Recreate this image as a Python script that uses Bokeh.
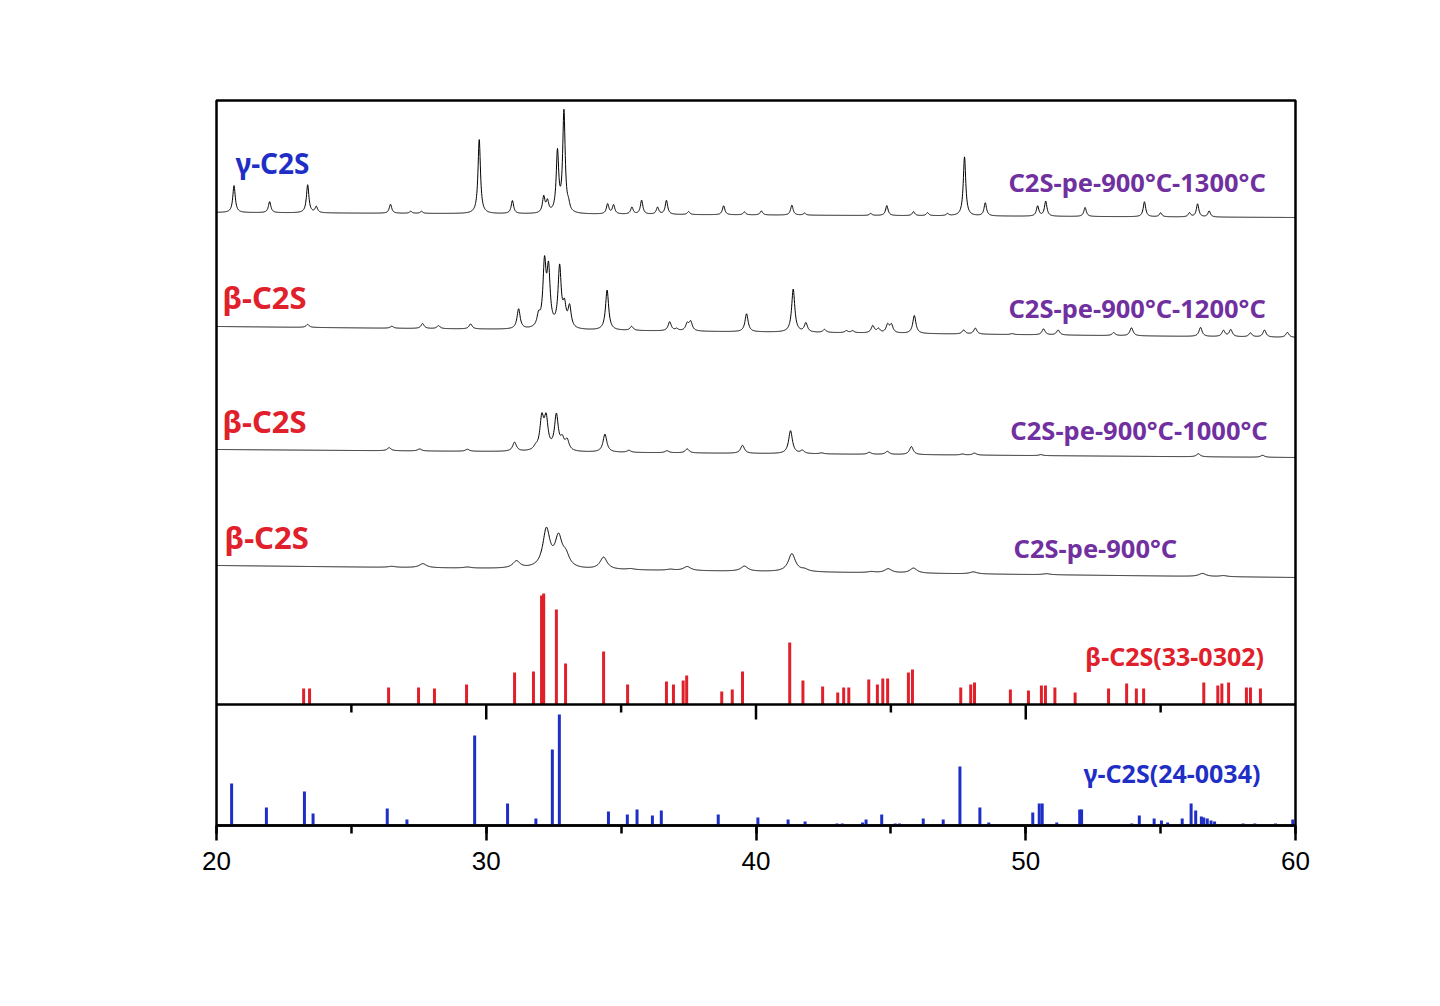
import numpy as np
from bokeh.plotting import figure
from bokeh.models import Range1d, Span, Label, SingleIntervalTicker
from bokeh.embed import file_html
from bokeh.resources import INLINE

# ---------------- data ----------------
# 2-theta peak positions (deg) and heights (arbitrary units) of the measured patterns
s1300_pos = [20.65, 21.97, 23.38, 23.70, 26.45, 27.20, 27.60, 29.74, 30.97, 32.13, 32.27, 32.64,
             32.88, 33.05, 34.50, 34.72, 35.40, 35.76, 36.35, 36.68, 37.50, 38.80, 39.57, 40.20,
             41.33, 41.80, 44.25, 44.85, 45.84, 46.36, 47.10, 47.73, 48.50, 50.44, 50.74, 52.20,
             54.40, 55.00, 56.07, 56.37, 56.80]
s1300_h = [27, 11, 28, 6, 9, 2, 2, 74, 13, 16, 11, 60,
           101, 6, 10, 9, 7, 14, 7, 14, 3, 9, 3, 4,
           10, 2, 2, 10, 4, 3, 2, 59, 13, 10, 15, 9,
           15, 4, 4, 13, 6]
s1300_base = [613, 608]      # baseline level at 20 deg and 60 deg (offset in stack)
s1300_fwhm = 0.11

s1200_pos = [23.38, 26.50, 27.64, 28.23, 29.42, 31.20, 31.94, 32.16, 32.31, 32.72, 32.90, 33.09,
             34.48, 35.39, 36.80, 37.06, 37.45, 37.58, 39.65, 41.38, 41.85, 42.54, 43.35, 43.58,
             44.33, 44.54, 44.88, 45.02, 45.87, 47.70, 48.13, 49.50, 50.66, 51.20, 53.26, 53.92,
             56.48, 57.33, 57.60, 58.33, 58.85, 59.70]
s1200_h = [3, 2, 5, 3, 5, 20, 11, 62, 55, 60, 20, 21,
           40, 4, 9, 2, 7, 9, 18, 43, 9, 3, 2, 2,
           7, 4, 8, 8, 18, 4, 6, 1, 6, 5, 3, 8,
           9, 6, 7, 4, 7, 5]
s1200_base = [499, 488]
s1200_fwhm = 0.14

s1000_pos = [26.40, 27.53, 29.30, 31.05, 31.83, 32.06, 32.22, 32.60, 32.82, 33.00, 34.40, 35.29,
             36.70, 37.45, 39.50, 41.28, 41.72, 42.43, 44.20, 44.87, 45.76, 47.65, 48.10, 50.56,
             56.40, 58.78]
s1000_h = [3, 2, 2, 9, 3, 31, 30, 35, 10, 10, 18, 2,
           2, 4, 8, 23, 3, 1, 2, 3, 8, 1, 2, 1,
           3, 2]
s1000_base = [376, 368]
s1000_fwhm = 0.17

s900_pos = [26.50, 27.65, 29.30, 31.12, 32.23, 32.68, 32.95, 34.35, 35.35, 36.83, 37.45, 39.57,
            41.33, 41.80, 44.28, 44.90, 45.84, 48.06, 50.77, 56.55, 57.33]
s900_h = [1, 4, 1, 7, 38, 29, 11, 12, 1, 1, 4, 5,
          18, 2, 1, 4, 5, 2, 1, 3, 1]
s900_base = [260, 248]
s900_fwhm = 0.32

# reference sticks: beta-C2S PDF 33-0302
beta_pos = [23.23, 23.45, 26.38, 27.49, 28.08, 29.27, 31.05, 31.75, 32.05, 32.13, 32.60, 32.94,
            34.35, 35.24, 36.68, 36.94, 37.30, 37.43, 38.73, 39.12, 39.50, 41.25, 41.74, 42.47,
            43.03, 43.25, 43.44, 44.18, 44.50, 44.70, 44.88, 45.65, 45.80, 47.59, 47.96, 48.10,
            49.43, 50.10, 50.58, 50.73, 51.08, 51.83, 53.07, 53.74, 54.10, 54.37, 56.60, 57.12,
            57.27, 57.52, 58.18, 58.33, 58.70]
beta_h = [16, 16, 17, 17, 16, 20, 32, 33, 109, 111, 95, 41,
          53, 20, 23, 20, 24, 29, 13, 15, 33, 62, 24, 18,
          12, 17, 17, 25, 20, 26, 26, 32, 35, 17, 20, 22,
          15, 14, 19, 19, 17, 12, 16, 21, 16, 16, 22, 19,
          21, 22, 17, 17, 16]
beta_base = 121

# reference sticks: gamma-C2S PDF 24-0034
gamma_pos = [20.56, 21.85, 23.26, 23.58, 26.33, 27.06, 29.57, 30.79, 31.84, 32.45, 32.71, 34.53,
             35.23, 35.59, 36.16, 36.49, 38.60, 40.07, 41.19, 41.82, 43.00, 43.20, 43.95, 44.08,
             44.66, 45.16, 45.32, 46.20, 46.94, 47.56, 48.30, 48.63, 50.26, 50.50, 50.61, 51.15,
             52.00, 52.07, 53.93, 54.21, 54.76, 55.03, 55.26, 55.80, 56.13, 56.30, 56.51, 56.60,
             56.73, 56.87, 57.00, 58.06, 58.49, 59.26, 59.90]
gamma_h = [42, 18, 34, 12, 17, 6, 90, 22, 7, 76, 111, 14,
           11, 16, 10, 15, 11, 8, 6, 4, 2, 2, 3, 6,
           11, 2, 2, 7, 6, 59, 18, 3, 13, 22, 22, 3,
           16, 16, 2, 10, 7, 5, 3, 7, 22, 15, 9, 8,
           7, 5, 4, 2, 2, 2, 6]
gamma_base = 0

x_ticks = [20, 30, 40, 50, 60]
x_minor = [25, 35, 45, 55]

# ---------------- figure ----------------
BLUE = "#1f2fc6"
RED = "#e0202a"
PURPLE = "#7030a0"
FONT = "Noto Sans"

p = figure(frame_width=1079, frame_height=725, output_backend="svg", toolbar_location=None,
           x_range=Range1d(20, 60), y_range=Range1d(0, 725),
           min_border_left=216, min_border_right=120, min_border_top=100, min_border_bottom=140)
p.background_fill_color = "white"
p.border_fill_color = "white"
p.grid.visible = False
p.yaxis.visible = False
p.outline_line_color = "black"
p.outline_line_width = 2.5

xa = p.xaxis[0]
xa.ticker = SingleIntervalTicker(interval=10, num_minor_ticks=2)
xa.axis_line_color = "black"
xa.axis_line_width = 2.5
xa.major_tick_line_width = 2.5
xa.minor_tick_line_width = 2.5
xa.major_tick_out = 15
xa.major_tick_in = 0
xa.minor_tick_out = 8
xa.minor_tick_in = 0
xa.major_label_text_font = "Liberation Sans"
xa.major_label_text_font_size = "26px"
xa.major_label_text_color = "black"
xa.major_label_standoff = 11

# measured patterns
x = np.arange(20.0, 60.0001, 0.01)


def pattern(pos, h, fwhm, base):
    y = base[0] + (base[1] - base[0]) * (x - 20.0) / 40.0
    g = fwhm / 2.0
    for c, a in zip(pos, h):
        y = y + a / (1.0 + ((x - c) / g) ** 2)
    return y


for pos, h, fw, base in [(s1300_pos, s1300_h, s1300_fwhm, s1300_base),
                         (s1200_pos, s1200_h, s1200_fwhm, s1200_base),
                         (s1000_pos, s1000_h, s1000_fwhm, s1000_base),
                         (s900_pos, s900_h, s900_fwhm, s900_base)]:
    p.line(x, pattern(pos, h, fw, base), line_color="black", line_width=1)

# reference sticks
p.segment(x0=beta_pos, y0=[beta_base] * len(beta_pos), x1=beta_pos,
          y1=[beta_base + v for v in beta_h], line_color=RED, line_width=3)
p.segment(x0=gamma_pos, y0=[gamma_base] * len(gamma_pos), x1=gamma_pos,
          y1=[gamma_base + v for v in gamma_h], line_color=BLUE, line_width=3)

# separator between the two panels, with its ticks pointing down
p.add_layout(Span(location=beta_base, dimension="width", line_color="black", line_width=2.5))
inner = [t for t in x_ticks if 20 < t < 60]
p.segment(x0=inner, y0=[beta_base] * len(inner), x1=inner, y1=[beta_base - 15] * len(inner),
          line_color="black", line_width=2.5)
p.segment(x0=x_minor, y0=[beta_base] * len(x_minor), x1=x_minor, y1=[beta_base - 8] * len(x_minor),
          line_color="black", line_width=2.5)

# labels
labels = [
    ("γ-C2S", 20.70, 663, BLUE, "28px"),
    ("β-C2S", 20.22, 529, RED, "31px"),
    ("β-C2S", 20.22, 405, RED, "31px"),
    ("β-C2S", 20.30, 289, RED, "31px"),
    ("C2S-pe-900°C-1300°C", 49.36, 644, PURPLE, "25.5px"),
    ("C2S-pe-900°C-1200°C", 49.36, 518, PURPLE, "25.5px"),
    ("C2S-pe-900°C-1000°C", 49.43, 396, PURPLE, "25.5px"),
    ("C2S-pe-900°C", 49.55, 278, PURPLE, "25.5px"),
    ("β-C2S(33-0302)", 52.21, 170, RED, "25px"),
    ("γ-C2S(24-0034)", 52.14, 53, BLUE, "25px"),
]
for t, lx, ly, col, fs in labels:
    p.add_layout(Label(x=lx, y=ly, text=t, text_color=col, text_font=FONT,
                       text_font_style="bold", text_font_size=fs, text_baseline="middle",
                       text_align="left"))

open("out.html", "w").write(file_html(p, INLINE))
